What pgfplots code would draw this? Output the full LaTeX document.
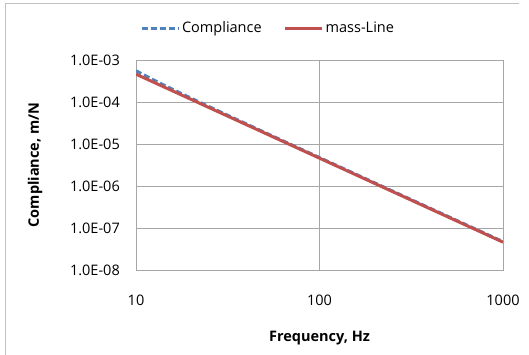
\documentclass[border=0pt]{standalone}
\usepackage{pgfplots}
\pgfplotsset{compat=1.18}
\usepackage{fontspec}
\setmainfont{Open Sans}
\definecolor{xlblue}{HTML}{4F81BD}
\definecolor{xlred}{HTML}{C0504D}
\definecolor{gridc}{HTML}{A6A6A6}
\newcommand{\xlfont}{\fontsize{14.5}{17}\selectfont}
\begin{document}
\xlfont
\begin{tikzpicture}
\useasboundingbox (0pt,0pt) rectangle (529pt,354pt);
\draw[gridc!70, line width=1pt] (5.5pt,-5pt) -- (5.5pt,350pt) -- (519pt,350pt);
\begin{axis}[
  at={(136pt,84pt)}, anchor=south west,
  scale only axis, width=367pt, height=210pt,
  xmode=log, ymode=log,
  xmin=10, xmax=1000, ymin=1e-8, ymax=1e-3,
  xtick={10,100,1000}, xticklabels={10,100,1000},
  ytick={1e-8,1e-7,1e-6,1e-5,1e-4,1e-3},
  yticklabels={1.0E-08,1.0E-07,1.0E-06,1.0E-05,1.0E-04,1.0E-03},
  minor xtick={}, minor ytick={},
  major tick length=0pt, minor tick length=0pt,
  tick style={draw=none},
  grid=major,
  major grid style={gridc, line width=0.8pt},
  axis line style={gridc, line width=0.8pt},
  xticklabel style={anchor=center, inner sep=0pt, yshift=-30pt, font=\xlfont},
  yticklabel style={anchor=east, inner sep=0pt, xshift=-16pt, font=\xlfont},
  xlabel={\bfseries Frequency, Hz},
  ylabel={\bfseries Compliance, m/N},
  every axis x label/.style={at={(axis description cs:0.5,-0.3238)}, anchor=center, font=\xlfont},
  every axis y label/.style={at={(axis description cs:-0.2752,0.5)}, anchor=center, rotate=90, font=\xlfont},
  legend columns=2,
  legend style={at={(axis description cs:0.3597,1.152)}, anchor=center, draw=none, fill=none,
    font=\xlfont, inner sep=0pt,
    /tikz/every even column/.append style={column sep=20pt}},
  legend cell align=left,
  legend image code/.code={\draw[#1] (0pt,0pt) -- (37pt,0pt);},
]
\addplot[xlblue, line width=3pt, dash pattern=on 6pt off 3pt] coordinates {
(10,5.55e-4) (12.5,3.34e-4) (15,2.25e-4) (20,1.23e-4) (25,7.78e-5) (30,5.37e-5)
(40,3.0e-5) (50,1.91e-5) (70,9.72e-6) (100,4.75e-6) (150,2.11e-6) (200,1.187e-6)
(300,5.27e-7) (500,1.898e-7) (700,9.68e-8) (1000,4.74e-8)};
\addlegendentry{Compliance}
\addplot[xlred, line width=3pt] coordinates {
(10,4.6e-4) (20,1.15e-4) (50,1.84e-5) (100,4.6e-6) (200,1.15e-6) (500,1.84e-7) (1000,4.6e-8)};
\addlegendentry{mass-Line}
\end{axis}
\end{tikzpicture}
\end{document}
